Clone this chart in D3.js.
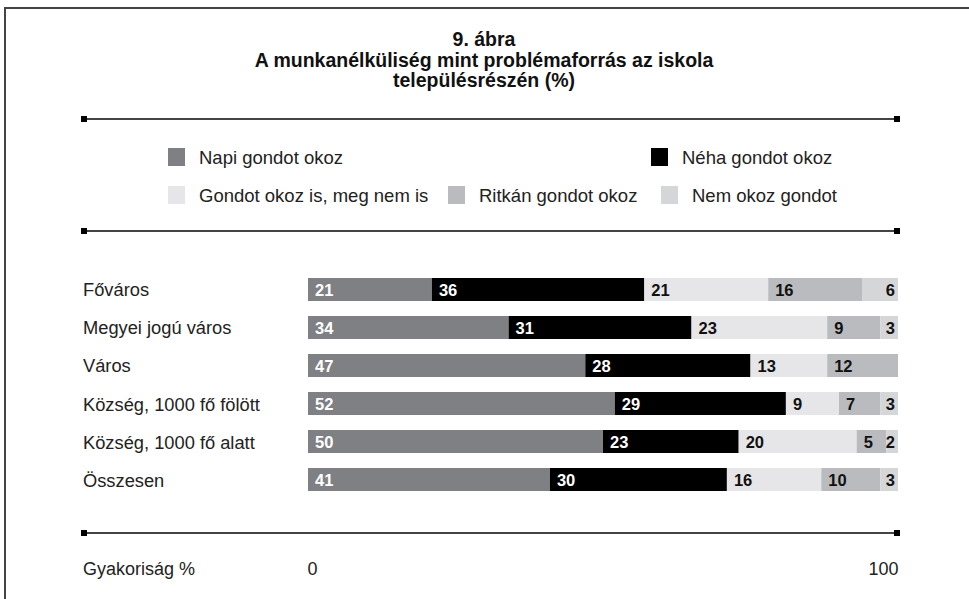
<!DOCTYPE html>
<html>
<head>
<meta charset="utf-8">
<script src="https://cdn.jsdelivr.net/npm/d3@7"></script>
<style>
  body { margin: 0; background: #fff; }
  svg text { font-family: 'Liberation Sans', Arial, sans-serif; }
</style>
</head>
<body>
<script>
const categories = ['Főváros', 'Megyei jogú város', 'Város', 'Község, 1000 fő fölött', 'Község, 1000 fő alatt', 'Összesen']
const seriesNames = ['Napi gondot okoz', 'Néha gondot okoz', 'Gondot okoz is, meg nem is', 'Ritkán gondot okoz', 'Nem okoz gondot']
const napi = [21, 34, 47, 52, 50, 41]
const neha = [36, 31, 28, 29, 23, 30]
const isis = [21, 23, 13, 9, 20, 16]
const ritkan = [16, 9, 12, 7, 5, 10]
const nem = [6, 3, 0, 3, 2, 3]
const titleLines = ['9. ábra', 'A munkanélküliség mint problémaforrás az iskola', 'településrészén (%)']
const axisTicks = [0, 100]

const colors = ['#7f8084', '#000000', '#e6e6e8', '#babbbf', '#d5d6d8']
const labelColors = ['#fff', '#fff', '#111', '#111', '#111']

const W = 969, H = 599

let rows = categories.map((c, i) => ({
  cat: c, s0: napi[i], s1: neha[i], s2: isis[i], s3: ritkan[i], s4: nem[i]
}))
let keys = ['s0', 's1', 's2', 's3', 's4']
let stacked = d3.stack().keys(keys)(rows)

let x = d3.scaleLinear().domain([0, 100]).range([308, 898])
let y = d3.scaleBand().domain(categories).range([278, 491]).paddingInner(0.395).paddingOuter(0)

let svg = d3.select('body').append('svg')
  .attr('width', W)
  .attr('height', H)

// frame (cut off at right and bottom)
svg.append('path')
  .attr('d', 'M5,' + H + 'V8H' + W)
  .attr('fill', 'none')
  .attr('stroke', '#444')
  .attr('stroke-width', 2)

// title
svg.append('g').selectAll('text')
    .data(titleLines)
  .enter().append('text')
    .attr('x', 484)
    .attr('y', (d, i) => 46 + i * 20.5)
    .attr('text-anchor', 'middle')
    .attr('font-size', 19.5)
    .attr('font-weight', 'bold')
    .attr('fill', '#111')
    .text(d => d)

// rules with square ends
function rule(yy) {
  let g = svg.append('g')
  g.append('line')
    .attr('x1', 84).attr('x2', 897)
    .attr('y1', yy).attr('y2', yy)
    .attr('stroke', '#444')
    .attr('stroke-width', 2)
  g.selectAll('rect')
      .data([84, 897])
    .enter().append('rect')
      .attr('x', d => d - 3)
      .attr('y', yy - 3)
      .attr('width', 6)
      .attr('height', 6)
      .attr('fill', '#000')
}
rule(119)
rule(231)
rule(533)

// legend
let legendPos = [[168, 157], [651, 157], [168, 195], [448, 195], [661, 195]]
let legend = svg.append('g').selectAll('g')
    .data(seriesNames)
  .enter().append('g')
    .attr('transform', (d, i) => 'translate(' + legendPos[i] + ')')
legend.append('rect')
  .attr('x', 0)
  .attr('y', -9)
  .attr('width', 17)
  .attr('height', 18)
  .attr('fill', (d, i) => colors[i])
legend.append('text')
  .attr('x', 31)
  .attr('y', 6.5)
  .attr('font-size', 18.5)
  .attr('fill', '#222')
  .text(d => d)

// category labels
svg.append('g').selectAll('text')
    .data(categories)
  .enter().append('text')
    .attr('x', 83)
    .attr('y', d => y(d) + y.bandwidth() / 2 + 7)
    .attr('font-size', 18.3)
    .attr('fill', '#222')
    .text(d => d)

// bars
let layers = svg.append('g').selectAll('g')
    .data(stacked)
  .enter().append('g')
    .attr('fill', (d, i) => colors[i])

layers.selectAll('rect')
    .data(d => d)
  .enter().append('rect')
    .attr('x', d => x(d[0]))
    .attr('y', d => y(d.data.cat))
    .attr('width', d => x(d[1]) - x(d[0]))
    .attr('height', y.bandwidth())

// value labels
let last = keys.length - 1
stacked.forEach((layer, li) => {
  svg.append('g').selectAll('text')
      .data(layer.filter(d => d[1] - d[0] > 0))
    .enter().append('text')
      .attr('x', d => li === last ? x(d[1]) - 3 : x(d[0]) + 7)
      .attr('y', d => y(d.data.cat) + y.bandwidth() / 2 + 6.5)
      .attr('text-anchor', li === last ? 'end' : 'start')
      .attr('font-size', 16.5)
      .attr('font-weight', 'bold')
      .attr('fill', labelColors[li])
      .text(d => d[1] - d[0])
})

// axis
let axis = svg.append('g')
  .attr('transform', 'translate(0,575)')
  .call(d3.axisBottom(x).tickValues(axisTicks).tickSize(0).tickPadding(0))
axis.select('.domain').remove()
axis.selectAll('text')
  .attr('font-size', 18)
  .attr('fill', '#222')
  .attr('dy', 0)
  .attr('y', 0)
  .attr('text-anchor', (d, i) => i === 0 ? 'start' : 'end')
  .attr('x', (d, i) => i === 0 ? -1 : 0)

svg.append('text')
  .attr('x', 83)
  .attr('y', 575)
  .attr('font-size', 18)
  .attr('fill', '#222')
  .text('Gyakoriság %')
</script>
</body>
</html>
